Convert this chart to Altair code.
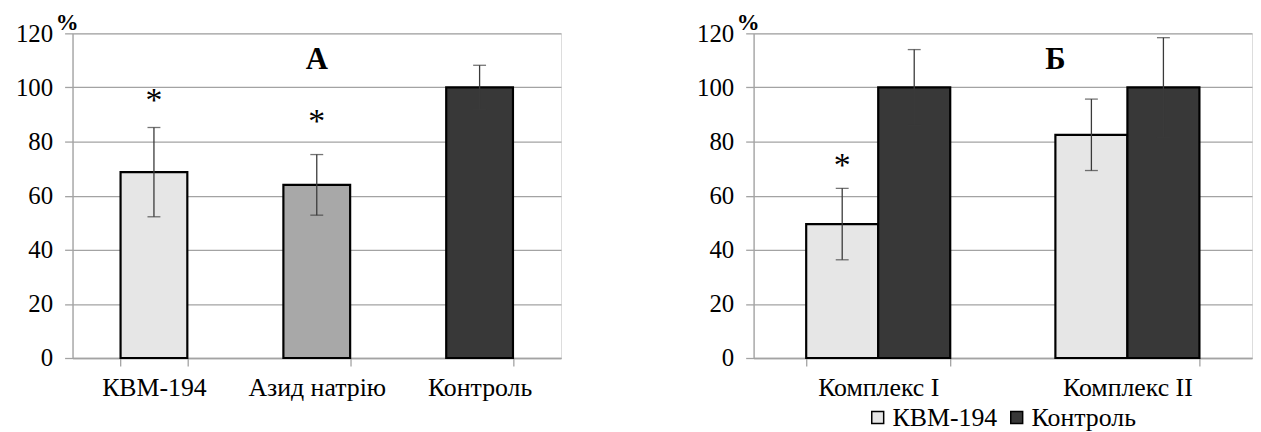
import altair as alt
import pandas as pd

# ---------------- data ----------------
# Panel А
a_cats = ["КВМ-194", "Азид натрію", "Контроль"]
a_vals = [68.7, 64.0, 100.0]
a_errs = [16.5, 11.2, 8.2]
a_star_y = [95.7, 88.0, None]

# Panel Б
b_groups = ["Комплекс I", "Комплекс I", "Комплекс II", "Комплекс II"]
b_series = ["КВМ-194", "Контроль", "КВМ-194", "Контроль"]
b_vals = [49.5, 100.0, 82.5, 100.0]
b_errs = [13.2, 14.0, 13.2, 18.4]
b_star_y = [71.8, None, None, None]

group_order = ["Комплекс I", "Комплекс II"]
series_order = ["КВМ-194", "Контроль"]
y_ticks = [0, 20, 40, 60, 80, 100, 120]
panel_letters = ["А", "Б"]
letter_y = [110, 110]

# ---------------- styling ----------------
FONT = "Times New Roman, Liberation Serif, DejaVu Serif, serif"
GRID = "#a3a3a3"
ERR = "#3a3a3a"
C_KBM = "#e6e6e6"
C_AZ = "#a8a8a8"
C_CTRL = "#383838"

yscale = alt.Scale(domain=[0, 120], nice=False)


def yaxis():
    return alt.Axis(values=y_ticks, grid=True, gridColor=GRID, gridWidth=1.3,
                    domain=True, domainColor=GRID, domainWidth=1.3,
                    ticks=True, tickColor=GRID, tickWidth=1.3, tickSize=8,
                    labelFont=FONT, labelFontSize=25, labelColor="black", labelPadding=12,
                    title="%", titleAngle=0, titleFont=FONT, titleFontSize=23,
                    titleFontWeight="bold", titleColor="black",
                    titleX=-6, titleY=-11, titleAlign="center", titleBaseline="middle")


def xaxis():
    return alt.Axis(title=None, labelAngle=0, labelFont=FONT, labelFontSize=26,
                    labelColor="black", labelPadding=9, tickBand="extent",
                    ticks=True, tickSize=8, tickColor=GRID, tickWidth=1.3,
                    domainColor=GRID, domainWidth=1.3, grid=False)


# ---------------- panel А ----------------
dfa = pd.DataFrame({"cat": a_cats, "val": a_vals, "err": a_errs, "star": a_star_y})
dfa["lo"] = dfa["val"] - dfa["err"]
dfa["hi"] = dfa["val"] + dfa["err"]

xa_scale = alt.Scale(domain=a_cats, paddingInner=0.59, paddingOuter=0.295)
base_a = alt.Chart(dfa)

bars_a = base_a.mark_bar(stroke="black", strokeWidth=2.2).encode(
    x=alt.X("cat:N", sort=a_cats, scale=xa_scale, axis=xaxis()),
    y=alt.Y("val:Q", scale=yscale, axis=yaxis()),
    fill=alt.Fill("cat:N", scale=alt.Scale(domain=a_cats, range=[C_KBM, C_AZ, C_CTRL]), legend=None),
)
err_a = base_a.mark_rule(color=ERR, strokeWidth=1.3).encode(
    x=alt.X("cat:N", sort=a_cats), y="lo:Q", y2="hi:Q")
caplo_a = base_a.mark_tick(color=ERR, thickness=1.3, size=13, orient="horizontal").encode(
    x=alt.X("cat:N", sort=a_cats), y="lo:Q")
caphi_a = base_a.mark_tick(color=ERR, thickness=1.3, size=13, orient="horizontal").encode(
    x=alt.X("cat:N", sort=a_cats), y="hi:Q")
stars_a = base_a.transform_filter("isValid(datum.star)").mark_text(
    text="*", font=FONT, fontSize=34, dy=2, baseline="middle", color="black").encode(
    x=alt.X("cat:N", sort=a_cats), y="star:Q")

let_a = alt.Chart(pd.DataFrame({"cat": [a_cats[1]], "y": [letter_y[0]], "t": [panel_letters[0]]})).mark_text(
    font=FONT, fontSize=31, fontWeight="bold", baseline="middle", color="black").encode(
    x=alt.X("cat:N", sort=a_cats), y="y:Q", text="t:N")

panel_a = alt.layer(bars_a, err_a, caplo_a, caphi_a, stars_a, let_a).properties(width=492, height=327)

# ---------------- panel Б ----------------
dfb = pd.DataFrame({"grp": b_groups, "ser": b_series, "val": b_vals, "err": b_errs, "star": b_star_y})
dfb["lo"] = dfb["val"] - dfb["err"]
dfb["hi"] = dfb["val"] + dfb["err"]

xb_scale = alt.Scale(domain=group_order, paddingInner=0.422, paddingOuter=0.211)
xo = alt.XOffset("ser:N", sort=series_order, scale=alt.Scale(domain=series_order, paddingInner=0, paddingOuter=0))
base_b = alt.Chart(dfb)

bars_b = base_b.mark_bar(stroke="black", strokeWidth=2.2).encode(
    x=alt.X("grp:N", sort=group_order, scale=xb_scale, axis=xaxis()),
    xOffset=xo,
    y=alt.Y("val:Q", scale=yscale, axis=yaxis()),
    fill=alt.Fill("ser:N", scale=alt.Scale(domain=series_order, range=[C_KBM, C_CTRL]),
                  legend=alt.Legend(orient="none", legendX=112, legendY=374,
                                    direction="horizontal", title=None,
                                    symbolType="square", symbolSize=144,
                                    symbolStrokeColor="black", symbolStrokeWidth=1.5,
                                    labelFont=FONT, labelFontSize=26, labelColor="black",
                                    labelOffset=2, columnPadding=6)),
)
err_b = base_b.mark_rule(color=ERR, strokeWidth=1.3).encode(
    x=alt.X("grp:N", sort=group_order), xOffset=xo, y="lo:Q", y2="hi:Q")
caplo_b = base_b.mark_tick(color=ERR, thickness=1.3, size=13, orient="horizontal").encode(
    x=alt.X("grp:N", sort=group_order), xOffset=xo, y="lo:Q")
caphi_b = base_b.mark_tick(color=ERR, thickness=1.3, size=13, orient="horizontal").encode(
    x=alt.X("grp:N", sort=group_order), xOffset=xo, y="hi:Q")
stars_b = base_b.transform_filter("isValid(datum.star)").mark_text(
    text="*", font=FONT, fontSize=34, dy=2, baseline="middle", color="black").encode(
    x=alt.X("grp:N", sort=group_order), xOffset=xo, y="star:Q")

let_b = alt.Chart(pd.DataFrame({"grp": [group_order[1]], "y": [letter_y[1]], "t": [panel_letters[1]]})).mark_text(
    font=FONT, fontSize=31, fontWeight="bold", baseline="middle", color="black").encode(
    x=alt.X("grp:N", sort=group_order, bandPosition=0), y="y:Q", text="t:N")

panel_b = alt.layer(bars_b, err_b, caplo_b, caphi_b, stars_b, let_b).properties(width=502, height=327)

chart = alt.hconcat(panel_a, panel_b, spacing=135).resolve_scale(
    fill="independent", x="independent"
).properties(
    padding={"left": 7, "top": 1, "right": 0, "bottom": 0}
).configure_view(stroke=None).configure(background="white")

chart.save("out.html", embed_options={"renderer": "svg", "actions": False})
